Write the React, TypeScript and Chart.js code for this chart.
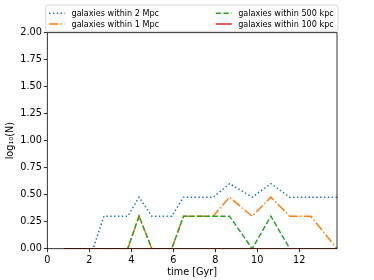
import React, { useEffect, useRef } from "react";
import { Chart, registerables } from "chart.js";

Chart.register(...registerables);

const times = [0.8, 2.18, 2.7, 3.83, 4.37, 4.98, 5.93, 6.49, 7.9, 8.68, 9.76, 10.65, 11.55, 12.55, 13.8];
const within2Mpc = [0, 0, 0.301, 0.301, 0.477, 0.301, 0.301, 0.477, 0.477, 0.602, 0.477, 0.602, 0.477, 0.477, 0.477];
const within1Mpc = [0, 0, 0, 0, 0.301, 0, 0, 0.301, 0.301, 0.477, 0.301, 0.477, 0.301, 0.301, 0];
const within500kpc = [0, 0, 0, 0, 0.301, 0, 0, 0.301, 0.301, 0.301, 0, 0.301, 0, null, null];
const within100kpc = [0, 0, 0, 0, 0, 0, 0, 0, 0, 0, 0, 0, 0, 0, 0];

const seriesLabels = [
  "galaxies within 2 Mpc",
  "galaxies within 1 Mpc",
  "galaxies within 500 kpc",
  "galaxies within 100 kpc",
];
const xTickStep = 2;
const yTickStep = 0.25;

const FONT = "'DejaVu Sans', sans-serif";
const COLORS = ["#1f77b4", "#ff7f0e", "#2ca02c", "#d62728"];
const DASHES: number[][] = [[1.46, 2.4], [9.3, 2.33, 1.46, 2.33], [5.4, 2.33], []];

const pts = (ys: (number | null)[]) => times.map((t, i) => ({ x: t, y: ys[i] }));

const framePlugin = {
  id: "frame",
  afterDatasetsDraw(chart: any) {
    const { ctx, chartArea: a } = chart;
    ctx.save();
    ctx.strokeStyle = "#000";
    ctx.lineWidth = 0.8;
    ctx.strokeRect(a.left, a.top, a.right - a.left, a.bottom - a.top);
    ctx.restore();
  },
};

const legendPlugin = {
  id: "mplLegend",
  afterDraw(chart: any) {
    const ctx = chart.ctx;
    ctx.save();
    const x0 = 45.7, y0 = 5, x1 = 338, y1 = 31.3, r = 2.5;
    ctx.beginPath();
    ctx.moveTo(x0 + r, y0);
    ctx.lineTo(x1 - r, y0);
    ctx.arcTo(x1, y0, x1, y0 + r, r);
    ctx.lineTo(x1, y1 - r);
    ctx.arcTo(x1, y1, x1 - r, y1, r);
    ctx.lineTo(x0 + r, y1);
    ctx.arcTo(x0, y1, x0, y1 - r, r);
    ctx.lineTo(x0, y0 + r);
    ctx.arcTo(x0, y0, x0 + r, y0, r);
    ctx.closePath();
    ctx.fillStyle = "rgba(255,255,255,0.8)";
    ctx.fill();
    ctx.strokeStyle = "#cccccc";
    ctx.lineWidth = 0.8;
    ctx.stroke();

    const cols = [49, 215.7];
    const rows = [13.3, 24];
    const order = [
      [0, 0],
      [0, 1],
      [1, 0],
      [1, 1],
    ];
    ctx.font = `8.1px ${FONT}`;
    ctx.textBaseline = "middle";
    ctx.fillStyle = "#000";
    seriesLabels.forEach((lab, i) => {
      const [c, rr] = order[i];
      const hx = cols[c], hy = rows[rr];
      ctx.beginPath();
      ctx.setLineDash(DASHES[i]);
      ctx.strokeStyle = COLORS[i];
      ctx.lineWidth = 1.5;
      ctx.lineCap = "butt";
      ctx.moveTo(hx, hy);
      ctx.lineTo(hx + 16, hy);
      ctx.stroke();
      ctx.setLineDash([]);
      ctx.fillText(lab, hx + 22.5, hy + 0.5);
    });
    ctx.restore();
  },
};

export default function App() {
  const ref = useRef<HTMLCanvasElement>(null);
  useEffect(() => {
    if (!ref.current) return;
    const values = [within2Mpc, within1Mpc, within500kpc, within100kpc];
    const chart = new Chart(ref.current, {
      type: "line",
      data: {
        datasets: values.map((v, i) => ({
          label: seriesLabels[i],
          data: pts(v),
          borderColor: COLORS[i],
          backgroundColor: COLORS[i],
          borderWidth: 1.5,
          borderDash: DASHES[i],
          pointRadius: 0,
          tension: 0,
          fill: false,
          spanGaps: false,
          order: 3 - i,
          clip: 0,
        })),
      },
      options: {
        responsive: false,
        animation: false,
        events: [],
        layout: { padding: { top: 32.7, right: 37, left: 0, bottom: 0 } },
        plugins: { legend: { display: false }, tooltip: { enabled: false } },
        scales: {
          x: {
            type: "linear",
            min: 0,
            max: 13.8,
            afterFit: (s: any) => {
              s.height = 31.3;
            },
            ticks: {
              stepSize: xTickStep,
              includeBounds: false,
              color: "#000",
              font: { family: FONT, size: 9.7 },
              padding: 2,
              maxRotation: 0,
              callback: (v: any) => String(v),
            },
            grid: { drawOnChartArea: false, drawTicks: true, tickLength: 3.5, color: "#000", lineWidth: 0.8 },
            border: { display: false },
            title: {
              display: true,
              text: "time [Gyr]",
              color: "#000",
              font: { family: FONT, size: 9.7 },
              padding: { top: 4, bottom: 2 },
            },
          },
          y: {
            type: "linear",
            min: 0,
            max: 2,
            afterFit: (s: any) => {
              s.width = 47.3;
            },
            ticks: {
              stepSize: yTickStep,
              color: "#000",
              font: { family: FONT, size: 9.7 },
              padding: 2,
              callback: (v: any) => Number(v).toFixed(2),
            },
            grid: { drawOnChartArea: false, drawTicks: true, tickLength: 3.5, color: "#000", lineWidth: 0.8 },
            border: { display: false },
            title: {
              display: true,
              text: "log\u2081\u2080(N)",
              color: "#000",
              font: { family: FONT, size: 9.7 },
              padding: { top: 5, bottom: 4 },
            },
          },
        },
      },
      plugins: [framePlugin, legendPlugin],
    });
    return () => chart.destroy();
  }, []);
  return (
    <div style={{ position: "fixed", left: 0, top: 0, width: 374, height: 280, background: "#fff" }}>
      <canvas ref={ref} width={374} height={280} style={{ display: "block" }} />
    </div>
  );
}
